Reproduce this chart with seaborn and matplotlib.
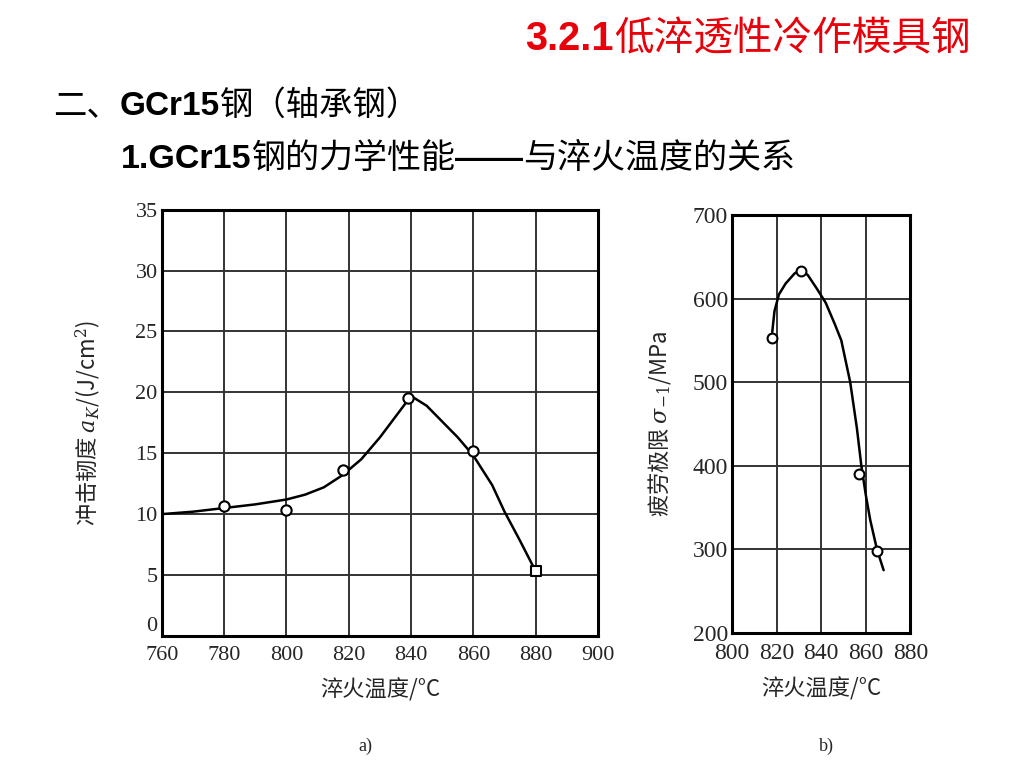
import matplotlib
matplotlib.use("Agg")
import matplotlib.pyplot as plt
import seaborn as sns
import pandas as pd

# a) impact toughness vs quenching temperature
temp_a = [780, 800, 818, 839, 860, 880]
ak_a = [10.7, 10.3, 13.6, 19.5, 15.2, 5.3]
marker_a = ['o', 'o', 'o', 'o', 'o', 's']
curve_temp_a = [760, 770, 780, 790, 800, 806, 812, 818, 824, 830, 835, 840, 845, 850, 855, 860, 866, 870, 875, 880]
curve_ak_a = [10.0, 10.2, 10.5, 10.8, 11.2, 11.6, 12.2, 13.2, 14.5, 16.3, 18.0, 19.7, 18.9, 17.6, 16.3, 14.8, 12.4, 10.2, 7.8, 5.3]

# b) fatigue limit vs quenching temperature
temp_b = [818, 831, 857, 865]
sigma_b = [553, 633, 390, 298]
curve_temp_b = [818, 819, 821, 824, 828, 831, 834, 838, 842, 846, 849, 853, 856, 858, 860, 862, 865, 868]
curve_sigma_b = [560, 585, 605, 618, 630, 635, 628, 612, 595, 570, 550, 500, 445, 400, 365, 335, 300, 275]

xticks_a = [760, 780, 800, 820, 840, 860, 880, 900]
yticks_a = [0, 5, 10, 15, 20, 25, 30, 35]
xticks_b = [800, 820, 840, 860, 880]
yticks_b = [200, 300, 400, 500, 600, 700]

sns.set_theme(style="white")
plt.rcParams['font.family'] = ['Noto Sans CJK SC', 'DejaVu Sans']
plt.rcParams['mathtext.fontset'] = 'dejavuserif'

fig = plt.figure(figsize=(10.24, 7.68), dpi=100)
fig.patch.set_facecolor('white')
renderer = fig.canvas.get_renderer()

latin = ['Liberation Sans', 'Noto Sans CJK SC']
cjk = ['Noto Sans CJK SC', 'DejaVu Sans']
serif = ['Liberation Serif', 'DejaVu Serif']


def chain(parts, x, y, size, color):
    # heading pieces side by side on one baseline; latin parts bold like the slide
    for txt, bold in parts:
        t = fig.text(x, y, txt, fontsize=size, color=color,
                     family=latin if bold else cjk,
                     fontweight='bold' if bold else 'normal',
                     va='baseline', ha='left')
        bb = t.get_window_extent(renderer)
        x += bb.width / fig.bbox.width


chain([("3.2.1", True), ("低淬透性冷作模具钢", False)], 0.513, 0.935, 28.5, '#e8000b')
chain([("二、", False), ("GCr15", True), ("钢（轴承钢）", False)], 0.052, 0.850, 24, 'black')
chain([("1.GCr15", True), ("钢的力学性能", False), ("——", True), ("与淬火温度的关系", False)],
      0.118, 0.781, 24.5, 'black')

df_curve_a = pd.DataFrame({'t': curve_temp_a, 'v': curve_ak_a})
df_pts_a = pd.DataFrame({'t': temp_a, 'v': ak_a, 'm': marker_a})
df_curve_b = pd.DataFrame({'t': curve_temp_b, 'v': curve_sigma_b})
df_pts_b = pd.DataFrame({'t': temp_b, 'v': sigma_b})

ax1 = fig.add_axes([0.158, 0.172, 0.426, 0.555])
ax2 = fig.add_axes([0.715, 0.176, 0.174, 0.544])

sns.lineplot(data=df_curve_a, x='t', y='v', ax=ax1, color='black', lw=1.8, sort=False, zorder=3)
for mk in ['o', 's']:
    sub = df_pts_a[df_pts_a['m'] == mk]
    sns.scatterplot(data=sub, x='t', y='v', ax=ax1, marker=mk, s=55,
                    facecolor='white', edgecolor='black', linewidth=1.5, zorder=4)

sns.lineplot(data=df_curve_b, x='t', y='v', ax=ax2, color='black', lw=1.8, sort=False, zorder=3)
sns.scatterplot(data=df_pts_b, x='t', y='v', ax=ax2, marker='o', s=50,
                facecolor='white', edgecolor='black', linewidth=1.5, zorder=4)

for ax, xt, yt, fs in [(ax1, xticks_a, yticks_a, 16), (ax2, xticks_b, yticks_b, 17)]:
    ax.set_xlim(xt[0], xt[-1])
    ax.set_ylim(yt[0], yt[-1])
    ax.set_xticks(xt)
    ax.set_yticks(yt)
    ax.set_xticklabels([str(v) for v in xt], family=serif, fontsize=fs)
    ax.set_yticklabels([str(v) for v in yt], family=serif, fontsize=fs)
    ax.grid(True, color='0.2', lw=1.4)
    ax.set_axisbelow(True)
    ax.tick_params(axis='x', length=0, pad=7)
    ax.tick_params(axis='y', length=0, pad=3)
    for s in ax.spines.values():
        s.set_color('black')
        s.set_linewidth(2.2)

# the "0" sits just above the corner, as in the scan
ax1.get_yticklabels()[0].set_verticalalignment('bottom')

ax1.set_xlabel("淬火温度/°C", family=cjk, fontsize=16, labelpad=10)
ax1.set_ylabel("冲击韧度 $a_K$/(J/cm$^2$)", family=cjk, fontsize=16, labelpad=24)
ax2.set_xlabel("淬火温度/°C", family=cjk, fontsize=16, labelpad=10)
ax2.set_ylabel("疲劳极限 $\\sigma_{-1}$/MPa", family=cjk, fontsize=16, labelpad=14)

fig.text(0.357, 0.022, "a)", family=serif, fontsize=13, ha='center')
fig.text(0.807, 0.022, "b)", family=serif, fontsize=13, ha='center')

fig.savefig("out.png", dpi=100, facecolor='white')
